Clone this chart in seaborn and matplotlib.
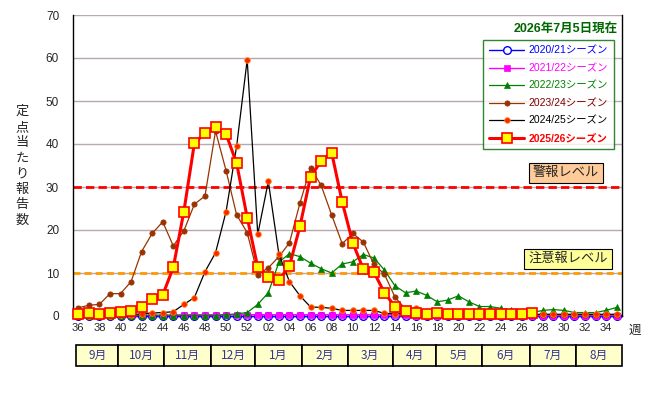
import matplotlib
matplotlib.use('Agg')
import matplotlib.pyplot as plt
import seaborn as sns
import numpy as np
import pandas as pd
from matplotlib.patches import Rectangle

# week order of a season: 36..52, then 1..35
weeks = list(range(36, 53)) + list(range(1, 36))

s2020 = [0.0, 0.0, 0.0, 0.0, 0.0, 0.0, 0.0, 0.0, 0.0, 0.0, 0.0, 0.0, 0.0, 0.0, 0.0, 0.0, 0.0,
         0.0, 0.0, 0.0, 0.0, 0.0, 0.0, 0.0, 0.0, 0.0, 0.0, 0.0, 0.0, 0.0, 0.0, 0.0, 0.0, 0.0, 0.0,
         0.0, 0.0, 0.0, 0.0, 0.0, 0.0, 0.0, 0.0, 0.0, 0.0, 0.0, 0.0, 0.0, 0.0, 0.0, 0.0, 0.0]
s2021 = [0.2, 0.2, 0.2, 0.2, 0.2, 0.2, 0.2, 0.2, 0.2, 0.2, 0.3, 0.3, 0.3, 0.3, 0.3, 0.3, 0.3,
         0.3, 0.3, 0.3, 0.3, 0.3, 0.3, 0.3, 0.3, 0.3, 0.3, 0.3, 0.3, 0.3, 0.2, 0.2, 0.1, 0.1, 0.1,
         0.1, 0.1, 0.1, 0.1, 0.1, 0.1, 0.1, 0.1, 0.1, 0.1, 0.1, 0.1, 0.1, 0.1, 0.1, 0.1, 0.1]
s2022 = [0.1, 0.1, 0.1, 0.1, 0.1, 0.1, 0.1, 0.1, 0.1, 0.1, 0.1, 0.1, 0.1, 0.1, 0.3, 0.5, 0.8,
         2.7, 5.4, 12.5, 14.5, 13.8, 12.3, 11.0, 10.0, 12.1, 12.6, 14.3, 13.5, 10.7, 7.0, 5.4, 5.8, 4.8, 3.3,
         3.7, 4.7, 3.3, 2.2, 2.2, 1.8, 1.3, 0.8, 0.8, 1.3, 1.5, 1.3, 0.8, 0.8, 0.8, 1.3, 2.0]
s2023 = [1.9, 2.5, 2.7, 5.2, 5.2, 8.0, 15.0, 19.2, 21.9, 16.3, 19.8, 26.0, 27.9, 43.0, 33.8, 23.5, 19.4,
         9.6, 11.2, 13.8, 17.0, 26.3, 34.5, 30.4, 23.5, 16.8, 19.2, 17.2, 12.0, 9.7, 4.4, 1.6, 1.5, 0.8, 0.6,
         0.5, 0.4, 0.4, 0.3, 0.3, 0.3, 0.3, 0.3, 0.3, 0.3, 0.3, 0.3, 0.3, 0.3, 0.3, 0.3, 0.3]
s2024 = [0.1, 0.1, 0.1, 0.1, 0.2, 0.3, 0.5, 0.7, 0.8, 1.0, 2.7, 4.3, 10.3, 14.7, 24.3, 39.5, 59.6,
         19.0, 31.3, 14.4, 8.0, 4.7, 2.1, 2.0, 1.8, 1.3, 1.3, 1.3, 1.3, 0.6, 0.5, 0.6, 1.8, 0.5, 0.5,
         0.4, 0.4, 0.4, 0.4, 0.4, 0.4, 0.4, 0.4, 0.4, 0.4, 0.4, 0.4, 0.4, 0.4, 0.4, 0.4, 0.4]
s2025 = [0.4, 0.6, 0.4, 0.8, 1.0, 1.2, 2.0, 4.0, 4.9, 11.3, 24.3, 40.2, 42.5, 44.0, 42.3, 35.5, 22.9,
         11.3, 9.1, 8.4, 11.6, 20.9, 32.4, 36.0, 38.0, 26.5, 17.0, 10.9, 10.2, 5.4, 2.2, 1.2, 0.6, 0.5, 0.6,
         0.4, 0.4, 0.4, 0.4, 0.4, 0.5, 0.4, 0.4, 0.6, np.nan, np.nan, np.nan, np.nan, np.nan, np.nan, np.nan, np.nan]

season_labels = ['2020/21シーズン', '2021/22シーズン', '2022/23シーズン',
                 '2023/24シーズン', '2024/25シーズン', '2025/26シーズン']

months = ['9月', '10月', '11月', '12月', '1月', '2月', '3月', '4月', '5月', '6月', '7月', '8月']
month_edges = [-0.2, 3.8, 8.1, 12.6, 16.7, 21.2, 25.5, 29.8, 33.9, 38.2, 42.8, 47.1, 51.5]

alert_level = 30
warning_level = 10

sns.set_style('white')
plt.rcParams['font.family'] = ['Liberation Sans', 'Noto Sans CJK JP']

fig = plt.figure(figsize=(6.5, 3.93), dpi=100)
ax = fig.add_axes([73/650, 1-316/393, 549/650, 301/393])

idx = np.arange(len(weeks))
df = pd.DataFrame({'idx': idx, '2020': s2020, '2021': s2021, '2022': s2022,
                   '2023': s2023, '2024': s2024, '2025': s2025})

styles = [
    ('2020', dict(color='#0000FF', lw=1, marker='o', markersize=5.5, markerfacecolor='white',
                  markeredgecolor='#0000FF', markeredgewidth=1)),
    ('2021', dict(color='#FF00FF', lw=1, marker='s', markersize=4.5, markerfacecolor='#FF00FF',
                  markeredgecolor='#FF00FF', markeredgewidth=0.5)),
    ('2022', dict(color='#008000', lw=0.9, marker='^', markersize=4.5, markerfacecolor='#008000',
                  markeredgecolor='#008000', markeredgewidth=0.5)),
    ('2023', dict(color='#993300', lw=0.9, marker='o', markersize=3.8, markerfacecolor='#993300',
                  markeredgecolor='#993300', markeredgewidth=0.5)),
    ('2024', dict(color='black', lw=0.9, marker='o', markersize=4, markerfacecolor='#FF2200',
                  markeredgecolor='#FF8800', markeredgewidth=0.6)),
    ('2025', dict(color='#FF0000', lw=2.2, marker='s', markersize=7, markerfacecolor='#FFFF00',
                  markeredgecolor='#FF0000', markeredgewidth=1.2)),
]

handles = []
for i, (col, st) in enumerate(styles):
    sns.lineplot(data=df, x='idx', y=col, ax=ax, label=season_labels[i],
                 clip_on=False, zorder=3 + i, **st)
    handles.append(ax.get_lines()[-1])

# grid and level lines
for v in range(10, 71, 10):
    ax.axhline(v, color='#b8a8b0', lw=1, zorder=1)
ax.axhline(alert_level, color='#FF0000', lw=2, ls=(0, (3, 1.5)), zorder=2)
ax.axhline(warning_level, color='#FF9900', lw=2, ls=(0, (2.5, 1.5)), zorder=2)

ax.text(46.2, 33.3, '警報レベル', ha='center', va='center', fontsize=9.5,
        bbox=dict(boxstyle='square,pad=0.3', fc='#FFCC99', ec='black', lw=0.8), zorder=10)
ax.text(46.4, 13.3, '注意報レベル', ha='center', va='center', fontsize=9.5,
        bbox=dict(boxstyle='square,pad=0.3', fc='#FFFF99', ec='black', lw=0.8), zorder=10)

ax.set_xlim(-0.5, 51.5)
ax.set_ylim(0, 70)
ax.set_yticks(range(0, 71, 10))
ax.set_xticks(idx[::2])
ax.set_xticklabels([f'{w:02d}' for w in weeks[::2]])
ax.set_xticks(idx, minor=True)
ax.tick_params(axis='x', which='both', direction='out', length=3, width=0.8, labelsize=8, pad=2)
ax.tick_params(axis='y', length=0, labelsize=8.5, pad=10)
ax.set_xlabel('')
ax.set_ylabel('')
for s in ['left', 'bottom', 'right']:
    ax.spines[s].set_color('black')
    ax.spines[s].set_linewidth(1)
ax.spines['top'].set_visible(False)

leg = ax.legend(handles=handles, labels=season_labels, loc='upper left',
                bbox_to_anchor=(0.747, 0.917), borderaxespad=0, fontsize=7.5,
                handlelength=3.4, labelspacing=0.72, frameon=True, fancybox=False,
                edgecolor='#006600', borderpad=0.55, handletextpad=0.4)
leg.get_frame().set_linewidth(1)
text_colors = ['#0000FF', '#FF00FF', '#008000', '#800000', 'black', '#FF0000']
for t, c in zip(leg.get_texts(), text_colors):
    t.set_color(c)
leg.get_texts()[-1].set_fontweight('bold')
leg.set_zorder(20)

ax.text(0.898, 0.955, '2026年7月5日現在', transform=ax.transAxes, ha='center', va='center',
        fontsize=9, fontweight='bold', color='#006600')

fig.text(22/650, 1-166/393, '定\n点\n当\nた\nり\n報\n告\n数', ha='center', va='center',
         fontsize=9.5, linespacing=1.25, family=['Noto Sans CJK JP'])
fig.text(635/650, 1-330/393, '週', ha='center', va='center', fontsize=9,
         family=['Noto Sans CJK JP'])

# month row under the axis
mx = fig.add_axes([73/650, 1-366/393, 549/650, 21/393])
mx.set_xlim(ax.get_xlim())
mx.set_ylim(0, 1)
mx.axis('off')
for i, m in enumerate(months):
    x0, x1 = month_edges[i], month_edges[i + 1]
    mx.add_patch(Rectangle((x0, 0), x1 - x0, 1, fc='#FFFFCC', ec='black', lw=1.2, clip_on=False))
    mx.text((x0 + x1) / 2, 0.5, m, ha='center', va='center', fontsize=8.5, color='#333399',
            family=['Noto Sans CJK JP'])

fig.savefig('out.png', dpi=100)
